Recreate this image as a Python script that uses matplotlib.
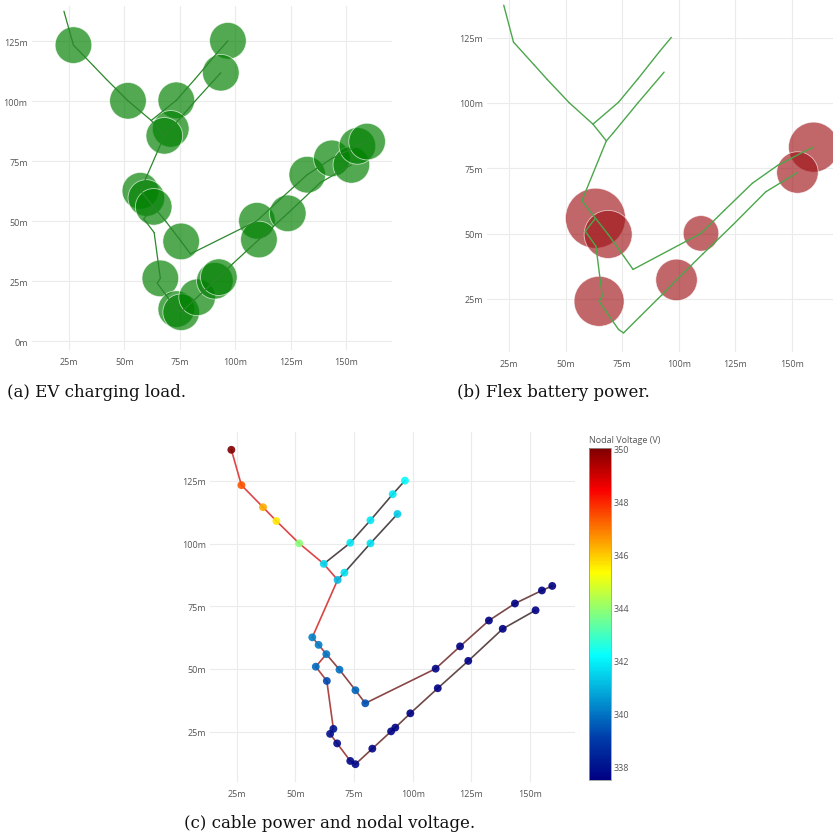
import numpy as np
import matplotlib.pyplot as plt
from matplotlib.colors import LinearSegmentedColormap, Normalize
import matplotlib.colorbar as mcolorbar

# node coordinates (m)
node_x = [22.7, 27.0, 36.2, 41.9, 51.6, 62.1, 73.4, 82.0, 91.5, 96.7,
          68.0, 70.9, 82.0, 93.5, 57.2, 59.9, 63.2, 68.8, 75.6, 79.8,
          58.7, 63.4, 66.2, 64.8, 67.8, 73.4, 75.6, 82.8, 90.8, 92.6,
          99.0, 110.7, 123.7, 138.4, 152.4, 109.8, 120.2, 132.5, 143.6, 155.1,
          159.5]
node_y = [137.4, 123.3, 114.5, 109.0, 100.1, 91.9, 100.3, 109.3, 119.7, 125.1,
          85.5, 88.4, 100.1, 111.8, 62.6, 59.6, 55.9, 49.7, 41.5, 36.3,
          50.9, 45.2, 26.1, 24.1, 20.3, 13.3, 12.0, 18.2, 25.1, 26.6,
          32.3, 42.3, 53.2, 66.0, 73.4, 50.1, 59.0, 69.3, 76.1, 81.3,
          83.1]

# cables (from node, to node), 1-based
edges = [(1, 2), (2, 3), (3, 4), (4, 5), (5, 6), (6, 11),
         (6, 7), (7, 8), (8, 9), (9, 10),
         (11, 12), (12, 13), (13, 14),
         (11, 15), (15, 16), (16, 17),
         (17, 18), (18, 19), (19, 20),
         (20, 36), (36, 37), (37, 38), (38, 39), (39, 40), (40, 41),
         (17, 21), (21, 22), (22, 23), (23, 24), (24, 25), (25, 26), (26, 27),
         (27, 28), (28, 29), (29, 30), (30, 31), (31, 32), (32, 33), (33, 34), (34, 35)]
cable_power = [30, 30, 30, 30, 30, 29,
               2, 2, 1.5, 1,
               2, 1.5, 1,
               28, 22, 21,
               14, 13.5, 13,
               12, 11, 10, 9, 8, 7,
               21, 20, 19, 18, 18, 17, 16,
               10, 9, 8, 7.5, 6.5, 5, 4, 3]

voltage = [350.0, 347.4, 346.3, 345.6, 343.8, 341.6, 341.8, 341.8, 341.8, 342.1,
           341.1, 341.7, 341.7, 341.4, 340.2, 340.1, 340.0, 339.9, 339.7, 339.4,
           339.8, 339.3, 338.0, 337.9, 337.8, 337.7, 337.7, 337.6, 337.6, 337.6,
           337.5, 337.5, 337.5, 337.5, 337.5, 337.6, 337.5, 337.5, 337.5, 337.5,
           337.5]

ev_nodes = [2, 5, 7, 10, 14, 12, 11, 15, 16, 17, 19, 23, 26, 27, 28, 29, 30,
            36, 32, 33, 38, 39, 35, 40, 41]
ev_load = [11, 11, 11, 11, 11, 11, 11, 11, 11, 11, 11, 11, 11, 11, 11, 11, 11,
           11, 11, 11, 11, 11, 11, 11, 11]

battery_nodes = [17, 18, 24, 31, 36, 41, 35]
battery_power = [12.0, 9.6, 10.0, 8.3, 7.1, 10.0, 8.3]

ticks = [0, 25, 50, 75, 100, 125, 150]
tick_labels = ['0m', '25m', '50m', '75m', '100m', '125m', '150m']

W, H = 833, 837
fig = plt.figure(figsize=(W / 100, H / 100), dpi=100)


def box(l, t, r, b):
    return [l / W, 1 - b / H, (r - l) / W, (b - t) / H]


def style(ax, xlim, ylim):
    xt = [t for t in ticks if xlim[0] <= t <= xlim[1]]
    yt = [t for t in ticks if ylim[0] <= t <= ylim[1]]
    ax.set_xticks(xt)
    ax.set_xticklabels([tick_labels[ticks.index(t)] for t in xt])
    ax.set_yticks(yt)
    ax.set_yticklabels([tick_labels[ticks.index(t)] for t in yt])
    ax.set_xlim(*xlim)
    ax.set_ylim(*ylim)
    for s in ax.spines.values():
        s.set_visible(False)
    ax.grid(True, color='#ebebeb', lw=0.8)
    ax.set_axisbelow(True)
    ax.tick_params(length=0, labelsize=6.5, labelcolor='#555', pad=3)
    ax.tick_params(axis='x', pad=5)
    for lab in ax.get_xticklabels() + ax.get_yticklabels():
        lab.set_fontfamily('Open Sans')


xs = np.array(node_x)
ys = np.array(node_y)


def draw_lines(ax, color, lw, z):
    for a, b in edges:
        ax.plot([xs[a - 1], xs[b - 1]], [ys[a - 1], ys[b - 1]], color=color, lw=lw, zorder=z,
                solid_capstyle='round')


# (a) EV charging load
ax1 = fig.add_axes(box(31.8, 7, 391.7, 351))
style(ax1, (8.2, 170.6), (-3.75, 139.6))
idx = np.array(ev_nodes) - 1
ax1.scatter(xs[idx], ys[idx], s=(0.72 * 3.33 * np.array(ev_load)) ** 2, color='#008000',
            alpha=0.68, edgecolors='white', linewidths=0.6, zorder=2)
draw_lines(ax1, '#2a882a', 0.9, 3)

# (b) Flex battery power
ax2 = fig.add_axes(box(487, 0, 850, 353))
style(ax2, (15.3, 175.6), (4.7, 139.8))
idx = np.array(battery_nodes) - 1
ax2.scatter(xs[idx], ys[idx], s=(0.72 * 5 * np.array(battery_power)) ** 2, color='#a01418',
            alpha=0.65, edgecolors='white', linewidths=0.6, zorder=2)
draw_lines(ax2, '#4ca64c', 1.0, 3)

# (c) cable power and nodal voltage
jet = LinearSegmentedColormap.from_list('pjet', [
    (0.0, (0 / 255, 0 / 255, 131 / 255)), (0.125, (0, 60 / 255, 170 / 255)),
    (0.375, (5 / 255, 1, 1)), (0.625, (1, 1, 0)), (0.875, (250 / 255, 0, 0)),
    (1.0, (128 / 255, 0, 0))])
vnorm = Normalize(337.5, 350)
pcmap = LinearSegmentedColormap.from_list('pw', ['#4a4a4a', '#9a4646', '#e04545'])
pnorm = Normalize(0, 30)

ax3 = fig.add_axes(box(210, 433, 575, 783))
style(ax3, (13.6, 169.2), (4.9, 144.5))
for (a, b), p in zip(edges, cable_power):
    ax3.plot([xs[a - 1], xs[b - 1]], [ys[a - 1], ys[b - 1]], color=pcmap(pnorm(p)), lw=1.2,
             zorder=2, solid_capstyle='round')
ax3.scatter(xs, ys, c=voltage, cmap=jet, norm=vnorm, s=32, alpha=0.9, linewidths=0, zorder=3)

cax = fig.add_axes(box(589.3, 449.3, 610.7, 780.7))
cb = mcolorbar.ColorbarBase(cax, cmap=jet, norm=vnorm, ticks=[338, 340, 342, 344, 346, 348, 350])
cb.outline.set_edgecolor('#999')
cb.outline.set_linewidth(0.6)
cax.tick_params(length=0, labelsize=6.5, labelcolor='#555', pad=2)
for lab in cax.get_yticklabels():
    lab.set_fontfamily('Open Sans')
fig.text(589 / W, 1 - 441 / H, 'Nodal Voltage (V)', fontsize=6.5, color='#555',
         family='Open Sans', va='center', ha='left')

# captions
cap = dict(fontsize=12, family='DejaVu Serif', color='#111', va='baseline', ha='left')
fig.text(7 / W, 1 - 397 / H, '(a) EV charging load.', **cap)
fig.text(457 / W, 1 - 397 / H, '(b) Flex battery power.', **cap)
fig.text(184 / W, 1 - 828 / H, '(c) cable power and nodal voltage.', **cap)

fig.savefig('out.png', dpi=100)
